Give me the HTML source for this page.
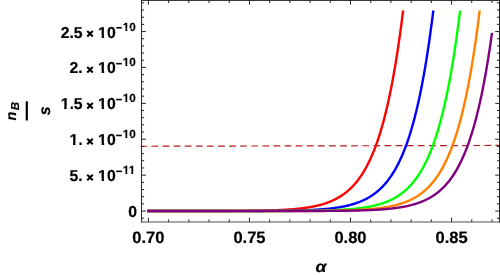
<!DOCTYPE html>
<html><head><meta charset="utf-8"><title>plot</title>
<style>
html,body{margin:0;padding:0;background:#fff;}
body{width:500px;height:275px;overflow:hidden;font-family:"Liberation Sans",sans-serif;}
svg{display:block;will-change:transform}
text{font-family:"Liberation Sans",sans-serif;font-weight:bold;fill:#000;stroke:#000;stroke-width:0.2px;text-rendering:geometricPrecision}
</style></head><body>
<svg width="500" height="275" viewBox="0 0 500 275">
<rect width="500" height="275" fill="#fff"/>
<defs><clipPath id="c"><rect x="141.55" y="10.50" width="357.95" height="211.50"/></clipPath></defs>
<line x1="140.30" y1="146.25" x2="499.50" y2="145.45" stroke="#b81c22" stroke-width="1.20" stroke-dasharray="6.8 4.3"/>
<path d="M147.15 211.05 L147.95 211.05 L148.75 211.05 L149.55 211.05 L150.35 211.05 L151.15 211.05 L151.95 211.05 L152.75 211.05 L153.55 211.05 L154.35 211.05 L155.15 211.05 L155.95 211.05 L156.75 211.05 L157.55 211.05 L158.35 211.05 L159.15 211.05 L159.95 211.05 L160.75 211.05 L161.55 211.05 L162.35 211.05 L163.15 211.05 L163.95 211.05 L164.75 211.05 L165.55 211.05 L166.35 211.05 L167.15 211.05 L167.95 211.04 L168.75 211.04 L169.55 211.04 L170.35 211.04 L171.15 211.04 L171.95 211.04 L172.75 211.04 L173.55 211.04 L174.35 211.04 L175.15 211.04 L175.95 211.04 L176.75 211.04 L177.55 211.04 L178.35 211.04 L179.15 211.04 L179.95 211.04 L180.75 211.04 L181.55 211.04 L182.35 211.04 L183.15 211.04 L183.95 211.04 L184.75 211.04 L185.55 211.04 L186.35 211.04 L187.15 211.04 L187.95 211.04 L188.75 211.04 L189.55 211.04 L190.35 211.03 L191.15 211.03 L191.95 211.03 L192.75 211.03 L193.55 211.03 L194.35 211.03 L195.15 211.03 L195.95 211.03 L196.75 211.03 L197.55 211.03 L198.35 211.03 L199.15 211.03 L199.95 211.03 L200.75 211.02 L201.55 211.02 L202.35 211.02 L203.15 211.02 L203.95 211.02 L204.75 211.02 L205.55 211.02 L206.35 211.02 L207.15 211.02 L207.95 211.01 L208.75 211.01 L209.55 211.01 L210.35 211.01 L211.15 211.01 L211.95 211.01 L212.75 211.00 L213.55 211.00 L214.35 211.00 L215.15 211.00 L215.95 211.00 L216.75 210.99 L217.55 210.99 L218.35 210.99 L219.15 210.99 L219.95 210.99 L220.75 210.98 L221.55 210.98 L222.35 210.98 L223.15 210.97 L223.95 210.97 L224.75 210.97 L225.55 210.97 L226.35 210.96 L227.15 210.96 L227.95 210.96 L228.75 210.95 L229.55 210.95 L230.35 210.94 L231.15 210.94 L231.95 210.94 L232.75 210.93 L233.55 210.93 L234.35 210.92 L235.15 210.92 L235.95 210.91 L236.75 210.91 L237.55 210.90 L238.35 210.90 L239.15 210.89 L239.95 210.88 L240.75 210.88 L241.55 210.87 L242.35 210.87 L243.15 210.86 L243.95 210.85 L244.75 210.84 L245.55 210.84 L246.35 210.83 L247.15 210.82 L247.95 210.81 L248.75 210.80 L249.55 210.79 L250.35 210.78 L251.15 210.77 L251.95 210.76 L252.75 210.75 L253.55 210.74 L254.35 210.73 L255.15 210.72 L255.95 210.70 L256.75 210.69 L257.55 210.68 L258.35 210.66 L259.15 210.65 L259.95 210.63 L260.75 210.62 L261.55 210.60 L262.35 210.58 L263.15 210.57 L263.95 210.55 L264.75 210.53 L265.55 210.51 L266.35 210.49 L267.15 210.47 L267.95 210.45 L268.75 210.43 L269.55 210.40 L270.35 210.38 L271.15 210.35 L271.95 210.33 L272.75 210.30 L273.55 210.27 L274.35 210.25 L275.15 210.22 L275.95 210.19 L276.75 210.15 L277.55 210.12 L278.35 210.09 L279.15 210.05 L279.95 210.02 L280.75 209.98 L281.55 209.94 L282.35 209.90 L283.15 209.85 L283.95 209.81 L284.75 209.77 L285.55 209.72 L286.35 209.67 L287.15 209.62 L287.95 209.57 L288.75 209.51 L289.55 209.46 L290.35 209.40 L291.15 209.34 L291.95 209.28 L292.75 209.21 L293.55 209.15 L294.35 209.08 L295.15 209.01 L295.95 208.93 L296.75 208.86 L297.55 208.78 L298.35 208.70 L299.15 208.61 L299.95 208.52 L300.75 208.43 L301.55 208.34 L302.35 208.24 L303.15 208.14 L303.95 208.03 L304.75 207.93 L305.55 207.81 L306.35 207.70 L307.15 207.58 L307.95 207.45 L308.75 207.33 L309.55 207.19 L310.35 207.05 L311.15 206.91 L311.95 206.76 L312.75 206.61 L313.55 206.45 L314.35 206.29 L315.15 206.12 L315.95 205.94 L316.75 205.76 L317.55 205.58 L318.35 205.38 L319.15 205.18 L319.95 204.97 L320.75 204.76 L321.55 204.53 L322.35 204.30 L323.15 204.07 L323.95 203.82 L324.75 203.56 L325.55 203.30 L326.35 203.03 L327.15 202.75 L327.95 202.45 L328.75 202.15 L329.55 201.84 L330.35 201.51 L331.15 201.18 L331.95 200.83 L332.75 200.48 L333.55 200.11 L334.35 199.72 L335.15 199.33 L335.95 198.92 L336.75 198.49 L337.55 198.06 L338.35 197.60 L339.15 197.13 L339.95 196.65 L340.75 196.15 L341.55 195.63 L342.35 195.09 L343.15 194.54 L343.95 193.97 L344.75 193.37 L345.55 192.76 L346.35 192.13 L347.15 191.47 L347.95 190.80 L348.75 190.10 L349.55 189.37 L350.35 188.62 L351.15 187.85 L351.95 187.05 L352.75 186.22 L353.55 185.37 L354.35 184.49 L355.15 183.57 L355.95 182.63 L356.75 181.65 L357.55 180.64 L358.35 179.60 L359.15 178.52 L359.95 177.41 L360.75 176.26 L361.55 175.07 L362.35 173.84 L363.15 172.57 L363.95 171.25 L364.75 169.90 L365.55 168.49 L366.35 167.04 L367.15 165.54 L367.95 164.00 L368.75 162.40 L369.55 160.74 L370.35 159.04 L371.15 157.27 L371.95 155.45 L372.75 153.56 L373.55 151.62 L374.35 149.60 L375.15 147.53 L375.95 145.38 L376.75 143.16 L377.55 140.87 L378.35 138.50 L379.15 136.06 L379.95 133.53 L380.75 130.92 L381.55 128.22 L382.35 125.44 L383.15 122.56 L383.95 119.59 L384.75 116.52 L385.55 113.35 L386.35 110.07 L387.15 106.69 L387.95 103.20 L388.75 99.59 L389.55 95.86 L390.35 92.02 L391.15 88.04 L391.95 83.94 L392.75 79.70 L393.55 75.32 L394.35 70.80 L395.15 66.13 L395.95 61.32 L396.75 56.34 L397.55 51.20 L398.35 45.89 L399.15 40.41 L399.95 34.76 L400.75 28.91 L401.55 22.88 L402.35 16.66 L403.15 10.23 L403.95 3.59" fill="none" stroke="#ff0000" stroke-width="2.40" stroke-linejoin="round" clip-path="url(#c)"/>
<path d="M147.15 211.05 L147.95 211.05 L148.75 211.05 L149.55 211.05 L150.35 211.05 L151.15 211.05 L151.95 211.05 L152.75 211.05 L153.55 211.05 L154.35 211.05 L155.15 211.05 L155.95 211.05 L156.75 211.05 L157.55 211.05 L158.35 211.05 L159.15 211.05 L159.95 211.05 L160.75 211.05 L161.55 211.05 L162.35 211.05 L163.15 211.05 L163.95 211.05 L164.75 211.05 L165.55 211.05 L166.35 211.05 L167.15 211.05 L167.95 211.05 L168.75 211.05 L169.55 211.05 L170.35 211.05 L171.15 211.05 L171.95 211.05 L172.75 211.05 L173.55 211.05 L174.35 211.05 L175.15 211.05 L175.95 211.05 L176.75 211.05 L177.55 211.05 L178.35 211.05 L179.15 211.05 L179.95 211.05 L180.75 211.05 L181.55 211.05 L182.35 211.05 L183.15 211.05 L183.95 211.05 L184.75 211.05 L185.55 211.05 L186.35 211.05 L187.15 211.05 L187.95 211.05 L188.75 211.05 L189.55 211.05 L190.35 211.05 L191.15 211.05 L191.95 211.05 L192.75 211.05 L193.55 211.05 L194.35 211.05 L195.15 211.05 L195.95 211.05 L196.75 211.05 L197.55 211.04 L198.35 211.04 L199.15 211.04 L199.95 211.04 L200.75 211.04 L201.55 211.04 L202.35 211.04 L203.15 211.04 L203.95 211.04 L204.75 211.04 L205.55 211.04 L206.35 211.04 L207.15 211.04 L207.95 211.04 L208.75 211.04 L209.55 211.04 L210.35 211.04 L211.15 211.04 L211.95 211.04 L212.75 211.04 L213.55 211.04 L214.35 211.04 L215.15 211.04 L215.95 211.04 L216.75 211.04 L217.55 211.04 L218.35 211.04 L219.15 211.04 L219.95 211.03 L220.75 211.03 L221.55 211.03 L222.35 211.03 L223.15 211.03 L223.95 211.03 L224.75 211.03 L225.55 211.03 L226.35 211.03 L227.15 211.03 L227.95 211.03 L228.75 211.03 L229.55 211.03 L230.35 211.02 L231.15 211.02 L231.95 211.02 L232.75 211.02 L233.55 211.02 L234.35 211.02 L235.15 211.02 L235.95 211.02 L236.75 211.02 L237.55 211.01 L238.35 211.01 L239.15 211.01 L239.95 211.01 L240.75 211.01 L241.55 211.01 L242.35 211.01 L243.15 211.00 L243.95 211.00 L244.75 211.00 L245.55 211.00 L246.35 211.00 L247.15 210.99 L247.95 210.99 L248.75 210.99 L249.55 210.99 L250.35 210.98 L251.15 210.98 L251.95 210.98 L252.75 210.98 L253.55 210.97 L254.35 210.97 L255.15 210.97 L255.95 210.96 L256.75 210.96 L257.55 210.96 L258.35 210.95 L259.15 210.95 L259.95 210.95 L260.75 210.94 L261.55 210.94 L262.35 210.93 L263.15 210.93 L263.95 210.93 L264.75 210.92 L265.55 210.92 L266.35 210.91 L267.15 210.91 L267.95 210.90 L268.75 210.89 L269.55 210.89 L270.35 210.88 L271.15 210.88 L271.95 210.87 L272.75 210.86 L273.55 210.86 L274.35 210.85 L275.15 210.84 L275.95 210.83 L276.75 210.82 L277.55 210.82 L278.35 210.81 L279.15 210.80 L279.95 210.79 L280.75 210.78 L281.55 210.77 L282.35 210.76 L283.15 210.75 L283.95 210.73 L284.75 210.72 L285.55 210.71 L286.35 210.70 L287.15 210.68 L287.95 210.67 L288.75 210.66 L289.55 210.64 L290.35 210.63 L291.15 210.61 L291.95 210.59 L292.75 210.58 L293.55 210.56 L294.35 210.54 L295.15 210.52 L295.95 210.50 L296.75 210.48 L297.55 210.46 L298.35 210.44 L299.15 210.42 L299.95 210.40 L300.75 210.37 L301.55 210.35 L302.35 210.32 L303.15 210.29 L303.95 210.27 L304.75 210.24 L305.55 210.21 L306.35 210.18 L307.15 210.14 L307.95 210.11 L308.75 210.08 L309.55 210.04 L310.35 210.00 L311.15 209.96 L311.95 209.92 L312.75 209.88 L313.55 209.84 L314.35 209.80 L315.15 209.75 L315.95 209.70 L316.75 209.65 L317.55 209.60 L318.35 209.55 L319.15 209.50 L319.95 209.44 L320.75 209.38 L321.55 209.32 L322.35 209.26 L323.15 209.19 L323.95 209.13 L324.75 209.06 L325.55 208.98 L326.35 208.91 L327.15 208.83 L327.95 208.75 L328.75 208.67 L329.55 208.58 L330.35 208.50 L331.15 208.40 L331.95 208.31 L332.75 208.21 L333.55 208.11 L334.35 208.00 L335.15 207.89 L335.95 207.78 L336.75 207.66 L337.55 207.54 L338.35 207.42 L339.15 207.29 L339.95 207.15 L340.75 207.01 L341.55 206.87 L342.35 206.72 L343.15 206.57 L343.95 206.41 L344.75 206.24 L345.55 206.07 L346.35 205.89 L347.15 205.71 L347.95 205.52 L348.75 205.33 L349.55 205.12 L350.35 204.91 L351.15 204.70 L351.95 204.47 L352.75 204.24 L353.55 204.00 L354.35 203.75 L355.15 203.49 L355.95 203.23 L356.75 202.95 L357.55 202.67 L358.35 202.37 L359.15 202.07 L359.95 201.75 L360.75 201.43 L361.55 201.09 L362.35 200.74 L363.15 200.38 L363.95 200.01 L364.75 199.62 L365.55 199.22 L366.35 198.81 L367.15 198.38 L367.95 197.94 L368.75 197.48 L369.55 197.01 L370.35 196.52 L371.15 196.01 L371.95 195.49 L372.75 194.95 L373.55 194.39 L374.35 193.82 L375.15 193.22 L375.95 192.60 L376.75 191.96 L377.55 191.30 L378.35 190.62 L379.15 189.91 L379.95 189.18 L380.75 188.43 L381.55 187.65 L382.35 186.84 L383.15 186.01 L383.95 185.15 L384.75 184.26 L385.55 183.34 L386.35 182.38 L387.15 181.40 L387.95 180.38 L388.75 179.33 L389.55 178.24 L390.35 177.12 L391.15 175.96 L391.95 174.76 L392.75 173.52 L393.55 172.24 L394.35 170.92 L395.15 169.55 L395.95 168.13 L396.75 166.67 L397.55 165.16 L398.35 163.60 L399.15 161.99 L399.95 160.32 L400.75 158.60 L401.55 156.82 L402.35 154.98 L403.15 153.08 L403.95 151.12 L404.75 149.09 L405.55 147.00 L406.35 144.83 L407.15 142.59 L407.95 140.28 L408.75 137.90 L409.55 135.43 L410.35 132.88 L411.15 130.25 L411.95 127.53 L412.75 124.73 L413.55 121.82 L414.35 118.83 L415.15 115.73 L415.95 112.54 L416.75 109.24 L417.55 105.83 L418.35 102.30 L419.15 98.67 L419.95 94.91 L420.75 91.03 L421.55 87.02 L422.35 82.88 L423.15 78.61 L423.95 74.19 L424.75 69.63 L425.55 64.93 L426.35 60.07 L427.15 55.05 L427.95 49.87 L428.75 44.51 L429.55 38.99 L430.35 33.28 L431.15 27.39 L431.95 21.31 L432.75 15.03 L433.55 8.54 L434.35 1.85" fill="none" stroke="#0000ff" stroke-width="2.40" stroke-linejoin="round" clip-path="url(#c)"/>
<path d="M147.15 211.05 L147.95 211.05 L148.75 211.05 L149.55 211.05 L150.35 211.05 L151.15 211.05 L151.95 211.05 L152.75 211.05 L153.55 211.05 L154.35 211.05 L155.15 211.05 L155.95 211.05 L156.75 211.05 L157.55 211.05 L158.35 211.05 L159.15 211.05 L159.95 211.05 L160.75 211.05 L161.55 211.05 L162.35 211.05 L163.15 211.05 L163.95 211.05 L164.75 211.05 L165.55 211.05 L166.35 211.05 L167.15 211.05 L167.95 211.05 L168.75 211.05 L169.55 211.05 L170.35 211.05 L171.15 211.05 L171.95 211.05 L172.75 211.05 L173.55 211.05 L174.35 211.05 L175.15 211.05 L175.95 211.05 L176.75 211.05 L177.55 211.05 L178.35 211.05 L179.15 211.05 L179.95 211.05 L180.75 211.05 L181.55 211.05 L182.35 211.05 L183.15 211.05 L183.95 211.05 L184.75 211.05 L185.55 211.05 L186.35 211.05 L187.15 211.05 L187.95 211.05 L188.75 211.05 L189.55 211.05 L190.35 211.05 L191.15 211.05 L191.95 211.05 L192.75 211.05 L193.55 211.05 L194.35 211.05 L195.15 211.05 L195.95 211.05 L196.75 211.05 L197.55 211.05 L198.35 211.05 L199.15 211.05 L199.95 211.05 L200.75 211.05 L201.55 211.05 L202.35 211.05 L203.15 211.05 L203.95 211.05 L204.75 211.05 L205.55 211.05 L206.35 211.05 L207.15 211.05 L207.95 211.05 L208.75 211.05 L209.55 211.05 L210.35 211.05 L211.15 211.05 L211.95 211.05 L212.75 211.05 L213.55 211.05 L214.35 211.05 L215.15 211.05 L215.95 211.05 L216.75 211.05 L217.55 211.05 L218.35 211.05 L219.15 211.05 L219.95 211.05 L220.75 211.05 L221.55 211.05 L222.35 211.05 L223.15 211.05 L223.95 211.04 L224.75 211.04 L225.55 211.04 L226.35 211.04 L227.15 211.04 L227.95 211.04 L228.75 211.04 L229.55 211.04 L230.35 211.04 L231.15 211.04 L231.95 211.04 L232.75 211.04 L233.55 211.04 L234.35 211.04 L235.15 211.04 L235.95 211.04 L236.75 211.04 L237.55 211.04 L238.35 211.04 L239.15 211.04 L239.95 211.04 L240.75 211.04 L241.55 211.04 L242.35 211.04 L243.15 211.04 L243.95 211.04 L244.75 211.04 L245.55 211.04 L246.35 211.03 L247.15 211.03 L247.95 211.03 L248.75 211.03 L249.55 211.03 L250.35 211.03 L251.15 211.03 L251.95 211.03 L252.75 211.03 L253.55 211.03 L254.35 211.03 L255.15 211.03 L255.95 211.03 L256.75 211.03 L257.55 211.02 L258.35 211.02 L259.15 211.02 L259.95 211.02 L260.75 211.02 L261.55 211.02 L262.35 211.02 L263.15 211.02 L263.95 211.01 L264.75 211.01 L265.55 211.01 L266.35 211.01 L267.15 211.01 L267.95 211.01 L268.75 211.01 L269.55 211.00 L270.35 211.00 L271.15 211.00 L271.95 211.00 L272.75 211.00 L273.55 210.99 L274.35 210.99 L275.15 210.99 L275.95 210.99 L276.75 210.99 L277.55 210.98 L278.35 210.98 L279.15 210.98 L279.95 210.97 L280.75 210.97 L281.55 210.97 L282.35 210.97 L283.15 210.96 L283.95 210.96 L284.75 210.96 L285.55 210.95 L286.35 210.95 L287.15 210.94 L287.95 210.94 L288.75 210.94 L289.55 210.93 L290.35 210.93 L291.15 210.92 L291.95 210.92 L292.75 210.91 L293.55 210.91 L294.35 210.90 L295.15 210.90 L295.95 210.89 L296.75 210.88 L297.55 210.88 L298.35 210.87 L299.15 210.86 L299.95 210.86 L300.75 210.85 L301.55 210.84 L302.35 210.83 L303.15 210.83 L303.95 210.82 L304.75 210.81 L305.55 210.80 L306.35 210.79 L307.15 210.78 L307.95 210.77 L308.75 210.76 L309.55 210.75 L310.35 210.74 L311.15 210.73 L311.95 210.72 L312.75 210.70 L313.55 210.69 L314.35 210.68 L315.15 210.66 L315.95 210.65 L316.75 210.63 L317.55 210.62 L318.35 210.60 L319.15 210.58 L319.95 210.57 L320.75 210.55 L321.55 210.53 L322.35 210.51 L323.15 210.49 L323.95 210.47 L324.75 210.45 L325.55 210.43 L326.35 210.40 L327.15 210.38 L327.95 210.36 L328.75 210.33 L329.55 210.30 L330.35 210.28 L331.15 210.25 L331.95 210.22 L332.75 210.19 L333.55 210.16 L334.35 210.12 L335.15 210.09 L335.95 210.05 L336.75 210.02 L337.55 209.98 L338.35 209.94 L339.15 209.90 L339.95 209.86 L340.75 209.82 L341.55 209.77 L342.35 209.72 L343.15 209.68 L343.95 209.63 L344.75 209.57 L345.55 209.52 L346.35 209.47 L347.15 209.41 L347.95 209.35 L348.75 209.29 L349.55 209.22 L350.35 209.16 L351.15 209.09 L351.95 209.02 L352.75 208.94 L353.55 208.87 L354.35 208.79 L355.15 208.71 L355.95 208.62 L356.75 208.54 L357.55 208.45 L358.35 208.35 L359.15 208.26 L359.95 208.16 L360.75 208.05 L361.55 207.94 L362.35 207.83 L363.15 207.72 L363.95 207.60 L364.75 207.48 L365.55 207.35 L366.35 207.22 L367.15 207.08 L367.95 206.94 L368.75 206.79 L369.55 206.64 L370.35 206.48 L371.15 206.32 L371.95 206.15 L372.75 205.98 L373.55 205.80 L374.35 205.61 L375.15 205.42 L375.95 205.22 L376.75 205.01 L377.55 204.80 L378.35 204.58 L379.15 204.35 L379.95 204.12 L380.75 203.87 L381.55 203.62 L382.35 203.36 L383.15 203.09 L383.95 202.81 L384.75 202.52 L385.55 202.22 L386.35 201.91 L387.15 201.59 L387.95 201.25 L388.75 200.91 L389.55 200.56 L390.35 200.19 L391.15 199.81 L391.95 199.42 L392.75 199.01 L393.55 198.59 L394.35 198.16 L395.15 197.71 L395.95 197.24 L396.75 196.76 L397.55 196.26 L398.35 195.75 L399.15 195.22 L399.95 194.67 L400.75 194.10 L401.55 193.51 L402.35 192.91 L403.15 192.28 L403.95 191.63 L404.75 190.96 L405.55 190.26 L406.35 189.55 L407.15 188.81 L407.95 188.04 L408.75 187.25 L409.55 186.43 L410.35 185.58 L411.15 184.70 L411.95 183.80 L412.75 182.86 L413.55 181.89 L414.35 180.89 L415.15 179.86 L415.95 178.79 L416.75 177.69 L417.55 176.54 L418.35 175.36 L419.15 174.14 L419.95 172.88 L420.75 171.58 L421.55 170.24 L422.35 168.84 L423.15 167.41 L423.95 165.92 L424.75 164.39 L425.55 162.80 L426.35 161.16 L427.15 159.47 L427.95 157.72 L428.75 155.91 L429.55 154.04 L430.35 152.11 L431.15 150.11 L431.95 148.05 L432.75 145.92 L433.55 143.72 L434.35 141.45 L435.15 139.10 L435.95 136.67 L436.75 134.17 L437.55 131.58 L438.35 128.90 L439.15 126.14 L439.95 123.29 L440.75 120.34 L441.55 117.29 L442.35 114.15 L443.15 110.90 L443.95 107.54 L444.75 104.07 L445.55 100.49 L446.35 96.80 L447.15 92.98 L447.95 89.03 L448.75 84.96 L449.55 80.75 L450.35 76.41 L451.15 71.92 L451.95 67.29 L452.75 62.50 L453.55 57.56 L454.35 52.46 L455.15 47.19 L455.95 41.75 L456.75 36.13 L457.55 30.33 L458.35 24.34 L459.15 18.16 L459.95 11.78 L460.75 5.18" fill="none" stroke="#00ff00" stroke-width="2.40" stroke-linejoin="round" clip-path="url(#c)"/>
<path d="M147.15 211.05 L147.95 211.05 L148.75 211.05 L149.55 211.05 L150.35 211.05 L151.15 211.05 L151.95 211.05 L152.75 211.05 L153.55 211.05 L154.35 211.05 L155.15 211.05 L155.95 211.05 L156.75 211.05 L157.55 211.05 L158.35 211.05 L159.15 211.05 L159.95 211.05 L160.75 211.05 L161.55 211.05 L162.35 211.05 L163.15 211.05 L163.95 211.05 L164.75 211.05 L165.55 211.05 L166.35 211.05 L167.15 211.05 L167.95 211.05 L168.75 211.05 L169.55 211.05 L170.35 211.05 L171.15 211.05 L171.95 211.05 L172.75 211.05 L173.55 211.05 L174.35 211.05 L175.15 211.05 L175.95 211.05 L176.75 211.05 L177.55 211.05 L178.35 211.05 L179.15 211.05 L179.95 211.05 L180.75 211.05 L181.55 211.05 L182.35 211.05 L183.15 211.05 L183.95 211.05 L184.75 211.05 L185.55 211.05 L186.35 211.05 L187.15 211.05 L187.95 211.05 L188.75 211.05 L189.55 211.05 L190.35 211.05 L191.15 211.05 L191.95 211.05 L192.75 211.05 L193.55 211.05 L194.35 211.05 L195.15 211.05 L195.95 211.05 L196.75 211.05 L197.55 211.05 L198.35 211.05 L199.15 211.05 L199.95 211.05 L200.75 211.05 L201.55 211.05 L202.35 211.05 L203.15 211.05 L203.95 211.05 L204.75 211.05 L205.55 211.05 L206.35 211.05 L207.15 211.05 L207.95 211.05 L208.75 211.05 L209.55 211.05 L210.35 211.05 L211.15 211.05 L211.95 211.05 L212.75 211.05 L213.55 211.05 L214.35 211.05 L215.15 211.05 L215.95 211.05 L216.75 211.05 L217.55 211.05 L218.35 211.05 L219.15 211.05 L219.95 211.05 L220.75 211.05 L221.55 211.05 L222.35 211.05 L223.15 211.05 L223.95 211.05 L224.75 211.05 L225.55 211.05 L226.35 211.05 L227.15 211.05 L227.95 211.05 L228.75 211.05 L229.55 211.05 L230.35 211.05 L231.15 211.05 L231.95 211.05 L232.75 211.05 L233.55 211.05 L234.35 211.05 L235.15 211.05 L235.95 211.05 L236.75 211.05 L237.55 211.05 L238.35 211.05 L239.15 211.05 L239.95 211.05 L240.75 211.05 L241.55 211.05 L242.35 211.05 L243.15 211.05 L243.95 211.04 L244.75 211.04 L245.55 211.04 L246.35 211.04 L247.15 211.04 L247.95 211.04 L248.75 211.04 L249.55 211.04 L250.35 211.04 L251.15 211.04 L251.95 211.04 L252.75 211.04 L253.55 211.04 L254.35 211.04 L255.15 211.04 L255.95 211.04 L256.75 211.04 L257.55 211.04 L258.35 211.04 L259.15 211.04 L259.95 211.04 L260.75 211.04 L261.55 211.04 L262.35 211.04 L263.15 211.04 L263.95 211.04 L264.75 211.04 L265.55 211.04 L266.35 211.03 L267.15 211.03 L267.95 211.03 L268.75 211.03 L269.55 211.03 L270.35 211.03 L271.15 211.03 L271.95 211.03 L272.75 211.03 L273.55 211.03 L274.35 211.03 L275.15 211.03 L275.95 211.03 L276.75 211.02 L277.55 211.02 L278.35 211.02 L279.15 211.02 L279.95 211.02 L280.75 211.02 L281.55 211.02 L282.35 211.02 L283.15 211.02 L283.95 211.01 L284.75 211.01 L285.55 211.01 L286.35 211.01 L287.15 211.01 L287.95 211.01 L288.75 211.00 L289.55 211.00 L290.35 211.00 L291.15 211.00 L291.95 211.00 L292.75 210.99 L293.55 210.99 L294.35 210.99 L295.15 210.99 L295.95 210.99 L296.75 210.98 L297.55 210.98 L298.35 210.98 L299.15 210.98 L299.95 210.97 L300.75 210.97 L301.55 210.97 L302.35 210.96 L303.15 210.96 L303.95 210.96 L304.75 210.95 L305.55 210.95 L306.35 210.95 L307.15 210.94 L307.95 210.94 L308.75 210.93 L309.55 210.93 L310.35 210.92 L311.15 210.92 L311.95 210.91 L312.75 210.91 L313.55 210.90 L314.35 210.90 L315.15 210.89 L315.95 210.89 L316.75 210.88 L317.55 210.87 L318.35 210.87 L319.15 210.86 L319.95 210.85 L320.75 210.85 L321.55 210.84 L322.35 210.83 L323.15 210.82 L323.95 210.81 L324.75 210.80 L325.55 210.80 L326.35 210.79 L327.15 210.78 L327.95 210.77 L328.75 210.75 L329.55 210.74 L330.35 210.73 L331.15 210.72 L331.95 210.71 L332.75 210.70 L333.55 210.68 L334.35 210.67 L335.15 210.65 L335.95 210.64 L336.75 210.62 L337.55 210.61 L338.35 210.59 L339.15 210.57 L339.95 210.56 L340.75 210.54 L341.55 210.52 L342.35 210.50 L343.15 210.48 L343.95 210.46 L344.75 210.44 L345.55 210.41 L346.35 210.39 L347.15 210.37 L347.95 210.34 L348.75 210.32 L349.55 210.29 L350.35 210.26 L351.15 210.23 L351.95 210.20 L352.75 210.17 L353.55 210.14 L354.35 210.11 L355.15 210.07 L355.95 210.03 L356.75 210.00 L357.55 209.96 L358.35 209.92 L359.15 209.88 L359.95 209.84 L360.75 209.79 L361.55 209.75 L362.35 209.70 L363.15 209.65 L363.95 209.60 L364.75 209.55 L365.55 209.49 L366.35 209.43 L367.15 209.38 L367.95 209.32 L368.75 209.25 L369.55 209.19 L370.35 209.12 L371.15 209.05 L371.95 208.98 L372.75 208.90 L373.55 208.83 L374.35 208.75 L375.15 208.66 L375.95 208.58 L376.75 208.49 L377.55 208.40 L378.35 208.30 L379.15 208.20 L379.95 208.10 L380.75 208.00 L381.55 207.89 L382.35 207.77 L383.15 207.66 L383.95 207.53 L384.75 207.41 L385.55 207.28 L386.35 207.14 L387.15 207.01 L387.95 206.86 L388.75 206.71 L389.55 206.56 L390.35 206.40 L391.15 206.23 L391.95 206.06 L392.75 205.89 L393.55 205.70 L394.35 205.51 L395.15 205.32 L395.95 205.11 L396.75 204.90 L397.55 204.69 L398.35 204.46 L399.15 204.23 L399.95 203.99 L400.75 203.74 L401.55 203.48 L402.35 203.22 L403.15 202.94 L403.95 202.66 L404.75 202.36 L405.55 202.06 L406.35 201.74 L407.15 201.42 L407.95 201.08 L408.75 200.73 L409.55 200.37 L410.35 200.00 L411.15 199.61 L411.95 199.21 L412.75 198.80 L413.55 198.37 L414.35 197.93 L415.15 197.47 L415.95 197.00 L416.75 196.51 L417.55 196.01 L418.35 195.48 L419.15 194.94 L419.95 194.39 L420.75 193.81 L421.55 193.21 L422.35 192.59 L423.15 191.95 L423.95 191.29 L424.75 190.61 L425.55 189.91 L426.35 189.18 L427.15 188.42 L427.95 187.64 L428.75 186.84 L429.55 186.00 L430.35 185.14 L431.15 184.25 L431.95 183.33 L432.75 182.38 L433.55 181.39 L434.35 180.38 L435.15 179.33 L435.95 178.24 L436.75 177.12 L437.55 175.96 L438.35 174.76 L439.15 173.52 L439.95 172.24 L440.75 170.91 L441.55 169.55 L442.35 168.13 L443.15 166.67 L443.95 165.16 L444.75 163.60 L445.55 161.99 L446.35 160.32 L447.15 158.60 L447.95 156.82 L448.75 154.98 L449.55 153.08 L450.35 151.12 L451.15 149.09 L451.95 147.00 L452.75 144.83 L453.55 142.59 L454.35 140.28 L455.15 137.90 L455.95 135.43 L456.75 132.88 L457.55 130.25 L458.35 127.53 L459.15 124.72 L459.95 121.82 L460.75 118.83 L461.55 115.73 L462.35 112.53 L463.15 109.23 L463.95 105.82 L464.75 102.30 L465.55 98.66 L466.35 94.90 L467.15 91.02 L467.95 87.01 L468.75 82.87 L469.55 78.59 L470.35 74.17 L471.15 69.61 L471.95 64.90 L472.75 60.04 L473.55 55.02 L474.35 49.83 L475.15 44.48 L475.95 38.95 L476.75 33.24 L477.55 27.34 L478.35 21.25 L479.15 14.97 L479.95 8.48 L480.75 1.78" fill="none" stroke="#ff8000" stroke-width="2.40" stroke-linejoin="round" clip-path="url(#c)"/>
<path d="M147.15 211.05 L147.95 211.05 L148.75 211.05 L149.55 211.05 L150.35 211.05 L151.15 211.05 L151.95 211.05 L152.75 211.05 L153.55 211.05 L154.35 211.05 L155.15 211.05 L155.95 211.05 L156.75 211.05 L157.55 211.05 L158.35 211.05 L159.15 211.05 L159.95 211.05 L160.75 211.05 L161.55 211.05 L162.35 211.05 L163.15 211.05 L163.95 211.05 L164.75 211.05 L165.55 211.05 L166.35 211.05 L167.15 211.05 L167.95 211.05 L168.75 211.05 L169.55 211.05 L170.35 211.05 L171.15 211.05 L171.95 211.05 L172.75 211.05 L173.55 211.05 L174.35 211.05 L175.15 211.05 L175.95 211.05 L176.75 211.05 L177.55 211.05 L178.35 211.05 L179.15 211.05 L179.95 211.05 L180.75 211.05 L181.55 211.05 L182.35 211.05 L183.15 211.05 L183.95 211.05 L184.75 211.05 L185.55 211.05 L186.35 211.05 L187.15 211.05 L187.95 211.05 L188.75 211.05 L189.55 211.05 L190.35 211.05 L191.15 211.05 L191.95 211.05 L192.75 211.05 L193.55 211.05 L194.35 211.05 L195.15 211.05 L195.95 211.05 L196.75 211.05 L197.55 211.05 L198.35 211.05 L199.15 211.05 L199.95 211.05 L200.75 211.05 L201.55 211.05 L202.35 211.05 L203.15 211.05 L203.95 211.05 L204.75 211.05 L205.55 211.05 L206.35 211.05 L207.15 211.05 L207.95 211.05 L208.75 211.05 L209.55 211.05 L210.35 211.05 L211.15 211.05 L211.95 211.05 L212.75 211.05 L213.55 211.05 L214.35 211.05 L215.15 211.05 L215.95 211.05 L216.75 211.05 L217.55 211.05 L218.35 211.05 L219.15 211.05 L219.95 211.05 L220.75 211.05 L221.55 211.05 L222.35 211.05 L223.15 211.05 L223.95 211.05 L224.75 211.05 L225.55 211.05 L226.35 211.05 L227.15 211.05 L227.95 211.05 L228.75 211.05 L229.55 211.05 L230.35 211.05 L231.15 211.05 L231.95 211.05 L232.75 211.05 L233.55 211.05 L234.35 211.05 L235.15 211.05 L235.95 211.05 L236.75 211.05 L237.55 211.05 L238.35 211.05 L239.15 211.05 L239.95 211.05 L240.75 211.05 L241.55 211.05 L242.35 211.05 L243.15 211.05 L243.95 211.05 L244.75 211.05 L245.55 211.05 L246.35 211.05 L247.15 211.05 L247.95 211.05 L248.75 211.05 L249.55 211.05 L250.35 211.05 L251.15 211.05 L251.95 211.05 L252.75 211.05 L253.55 211.05 L254.35 211.05 L255.15 211.05 L255.95 211.05 L256.75 211.05 L257.55 211.05 L258.35 211.05 L259.15 211.04 L259.95 211.04 L260.75 211.04 L261.55 211.04 L262.35 211.04 L263.15 211.04 L263.95 211.04 L264.75 211.04 L265.55 211.04 L266.35 211.04 L267.15 211.04 L267.95 211.04 L268.75 211.04 L269.55 211.04 L270.35 211.04 L271.15 211.04 L271.95 211.04 L272.75 211.04 L273.55 211.04 L274.35 211.04 L275.15 211.04 L275.95 211.04 L276.75 211.04 L277.55 211.04 L278.35 211.04 L279.15 211.04 L279.95 211.04 L280.75 211.04 L281.55 211.03 L282.35 211.03 L283.15 211.03 L283.95 211.03 L284.75 211.03 L285.55 211.03 L286.35 211.03 L287.15 211.03 L287.95 211.03 L288.75 211.03 L289.55 211.03 L290.35 211.03 L291.15 211.03 L291.95 211.02 L292.75 211.02 L293.55 211.02 L294.35 211.02 L295.15 211.02 L295.95 211.02 L296.75 211.02 L297.55 211.02 L298.35 211.02 L299.15 211.01 L299.95 211.01 L300.75 211.01 L301.55 211.01 L302.35 211.01 L303.15 211.01 L303.95 211.00 L304.75 211.00 L305.55 211.00 L306.35 211.00 L307.15 211.00 L307.95 210.99 L308.75 210.99 L309.55 210.99 L310.35 210.99 L311.15 210.99 L311.95 210.98 L312.75 210.98 L313.55 210.98 L314.35 210.98 L315.15 210.97 L315.95 210.97 L316.75 210.97 L317.55 210.96 L318.35 210.96 L319.15 210.96 L319.95 210.95 L320.75 210.95 L321.55 210.95 L322.35 210.94 L323.15 210.94 L323.95 210.93 L324.75 210.93 L325.55 210.92 L326.35 210.92 L327.15 210.91 L327.95 210.91 L328.75 210.90 L329.55 210.90 L330.35 210.89 L331.15 210.89 L331.95 210.88 L332.75 210.87 L333.55 210.87 L334.35 210.86 L335.15 210.85 L335.95 210.85 L336.75 210.84 L337.55 210.83 L338.35 210.82 L339.15 210.81 L339.95 210.80 L340.75 210.79 L341.55 210.78 L342.35 210.78 L343.15 210.76 L343.95 210.75 L344.75 210.74 L345.55 210.73 L346.35 210.72 L347.15 210.71 L347.95 210.69 L348.75 210.68 L349.55 210.67 L350.35 210.65 L351.15 210.64 L351.95 210.62 L352.75 210.61 L353.55 210.59 L354.35 210.57 L355.15 210.56 L355.95 210.54 L356.75 210.52 L357.55 210.50 L358.35 210.48 L359.15 210.46 L359.95 210.44 L360.75 210.41 L361.55 210.39 L362.35 210.37 L363.15 210.34 L363.95 210.31 L364.75 210.29 L365.55 210.26 L366.35 210.23 L367.15 210.20 L367.95 210.17 L368.75 210.14 L369.55 210.10 L370.35 210.07 L371.15 210.03 L371.95 210.00 L372.75 209.96 L373.55 209.92 L374.35 209.88 L375.15 209.83 L375.95 209.79 L376.75 209.74 L377.55 209.70 L378.35 209.65 L379.15 209.60 L379.95 209.54 L380.75 209.49 L381.55 209.43 L382.35 209.37 L383.15 209.31 L383.95 209.25 L384.75 209.19 L385.55 209.12 L386.35 209.05 L387.15 208.98 L387.95 208.90 L388.75 208.82 L389.55 208.74 L390.35 208.66 L391.15 208.58 L391.95 208.49 L392.75 208.39 L393.55 208.30 L394.35 208.20 L395.15 208.10 L395.95 207.99 L396.75 207.88 L397.55 207.77 L398.35 207.65 L399.15 207.53 L399.95 207.41 L400.75 207.28 L401.55 207.14 L402.35 207.00 L403.15 206.86 L403.95 206.71 L404.75 206.56 L405.55 206.40 L406.35 206.23 L407.15 206.06 L407.95 205.88 L408.75 205.70 L409.55 205.51 L410.35 205.31 L411.15 205.11 L411.95 204.90 L412.75 204.68 L413.55 204.46 L414.35 204.23 L415.15 203.99 L415.95 203.74 L416.75 203.48 L417.55 203.22 L418.35 202.94 L419.15 202.65 L419.95 202.36 L420.75 202.06 L421.55 201.74 L422.35 201.41 L423.15 201.08 L423.95 200.73 L424.75 200.37 L425.55 199.99 L426.35 199.61 L427.15 199.21 L427.95 198.80 L428.75 198.37 L429.55 197.93 L430.35 197.47 L431.15 197.00 L431.95 196.51 L432.75 196.00 L433.55 195.48 L434.35 194.94 L435.15 194.38 L435.95 193.81 L436.75 193.21 L437.55 192.59 L438.35 191.95 L439.15 191.29 L439.95 190.61 L440.75 189.90 L441.55 189.17 L442.35 188.42 L443.15 187.64 L443.95 186.83 L444.75 186.00 L445.55 185.14 L446.35 184.25 L447.15 183.33 L447.95 182.38 L448.75 181.39 L449.55 180.38 L450.35 179.33 L451.15 178.24 L451.95 177.12 L452.75 175.96 L453.55 174.76 L454.35 173.52 L455.15 172.24 L455.95 170.91 L456.75 169.54 L457.55 168.13 L458.35 166.67 L459.15 165.16 L459.95 163.60 L460.75 161.99 L461.55 160.32 L462.35 158.60 L463.15 156.82 L463.95 154.98 L464.75 153.08 L465.55 151.12 L466.35 149.09 L467.15 147.00 L467.95 144.83 L468.75 142.59 L469.55 140.28 L470.35 137.90 L471.15 135.43 L471.95 132.88 L472.75 130.25 L473.55 127.53 L474.35 124.72 L475.15 121.82 L475.95 118.83 L476.75 115.73 L477.55 112.53 L478.35 109.23 L479.15 105.82 L479.95 102.29 L480.75 98.65 L481.55 94.89 L482.35 91.01 L483.15 87.00 L483.95 82.86 L484.75 78.58 L485.55 74.17 L486.35 69.61 L487.15 64.90 L487.95 60.03 L488.75 55.01 L489.55 49.82 L490.35 44.46 L491.15 38.93 L491.95 33.22 L492.00 32.86" fill="none" stroke="#800080" stroke-width="2.40" stroke-linejoin="round" clip-path="url(#c)"/>
<path d="M148.40 222.00 v-4.30 M148.40 0.40 v4.30 M168.61 222.00 v-2.60 M168.61 0.40 v2.60 M188.82 222.00 v-2.60 M188.82 0.40 v2.60 M209.03 222.00 v-2.60 M209.03 0.40 v2.60 M229.24 222.00 v-2.60 M229.24 0.40 v2.60 M249.45 222.00 v-4.30 M249.45 0.40 v4.30 M269.66 222.00 v-2.60 M269.66 0.40 v2.60 M289.87 222.00 v-2.60 M289.87 0.40 v2.60 M310.08 222.00 v-2.60 M310.08 0.40 v2.60 M330.29 222.00 v-2.60 M330.29 0.40 v2.60 M350.50 222.00 v-4.30 M350.50 0.40 v4.30 M370.71 222.00 v-2.60 M370.71 0.40 v2.60 M390.92 222.00 v-2.60 M390.92 0.40 v2.60 M411.13 222.00 v-2.60 M411.13 0.40 v2.60 M431.34 222.00 v-2.60 M431.34 0.40 v2.60 M451.55 222.00 v-4.30 M451.55 0.40 v4.30 M471.76 222.00 v-2.60 M471.76 0.40 v2.60 M491.97 222.00 v-2.60 M491.97 0.40 v2.60 M141.55 218.23 h2.60 M499.50 218.23 h-2.60 M141.55 211.05 h4.30 M499.50 211.05 h-4.30 M141.55 203.87 h2.60 M499.50 203.87 h-2.60 M141.55 196.69 h2.60 M499.50 196.69 h-2.60 M141.55 189.51 h2.60 M499.50 189.51 h-2.60 M141.55 182.33 h2.60 M499.50 182.33 h-2.60 M141.55 175.15 h4.30 M499.50 175.15 h-4.30 M141.55 167.97 h2.60 M499.50 167.97 h-2.60 M141.55 160.79 h2.60 M499.50 160.79 h-2.60 M141.55 153.61 h2.60 M499.50 153.61 h-2.60 M141.55 146.43 h2.60 M499.50 146.43 h-2.60 M141.55 139.25 h4.30 M499.50 139.25 h-4.30 M141.55 132.07 h2.60 M499.50 132.07 h-2.60 M141.55 124.89 h2.60 M499.50 124.89 h-2.60 M141.55 117.71 h2.60 M499.50 117.71 h-2.60 M141.55 110.53 h2.60 M499.50 110.53 h-2.60 M141.55 103.35 h4.30 M499.50 103.35 h-4.30 M141.55 96.17 h2.60 M499.50 96.17 h-2.60 M141.55 88.99 h2.60 M499.50 88.99 h-2.60 M141.55 81.81 h2.60 M499.50 81.81 h-2.60 M141.55 74.63 h2.60 M499.50 74.63 h-2.60 M141.55 67.45 h4.30 M499.50 67.45 h-4.30 M141.55 60.27 h2.60 M499.50 60.27 h-2.60 M141.55 53.09 h2.60 M499.50 53.09 h-2.60 M141.55 45.91 h2.60 M499.50 45.91 h-2.60 M141.55 38.73 h2.60 M499.50 38.73 h-2.60 M141.55 31.55 h4.30 M499.50 31.55 h-4.30 M141.55 24.37 h2.60 M499.50 24.37 h-2.60 M141.55 17.19 h2.60 M499.50 17.19 h-2.60 M141.55 10.01 h2.60 M499.50 10.01 h-2.60 M141.55 2.83 h2.60 M499.50 2.83 h-2.60" fill="none" stroke="#222222" stroke-width="1.00"/>
<path d="M141.55 -0.10 V222.50 M499.50 -0.10 V222.50 M141.05 0.40 H500.00" fill="none" stroke="#222222" stroke-width="1.00"/>
<path d="M141.05 222.00 H500.00" fill="none" stroke="#505050" stroke-width="1.00"/>
<text x="148.40" y="243.10" font-size="16.50" text-anchor="middle">0.70</text>
<text x="249.45" y="243.10" font-size="16.50" text-anchor="middle">0.75</text>
<text x="350.50" y="243.10" font-size="16.50" text-anchor="middle">0.80</text>
<text x="451.55" y="243.10" font-size="16.50" text-anchor="middle">0.85</text>
<text x="82.60" y="37.55" font-size="15.80" text-anchor="end">2.5</text><path d="M87.25 31.10 l5.50 5.50 M87.25 36.60 l5.50 -5.50" stroke="#000" stroke-width="2.10" fill="none"/><text x="98.10" y="37.55" font-size="15.80">10</text><rect x="116.20" y="26.95" width="5.60" height="1.60" fill="#000"/><text x="122.80" y="30.55" font-size="11.70">10</text>
<text x="82.60" y="73.45" font-size="15.80" text-anchor="end">2.</text><path d="M87.25 67.00 l5.50 5.50 M87.25 72.50 l5.50 -5.50" stroke="#000" stroke-width="2.10" fill="none"/><text x="98.10" y="73.45" font-size="15.80">10</text><rect x="116.20" y="62.85" width="5.60" height="1.60" fill="#000"/><text x="122.80" y="66.45" font-size="11.70">10</text>
<text x="82.60" y="109.35" font-size="15.80" text-anchor="end">1.5</text><path d="M87.25 102.90 l5.50 5.50 M87.25 108.40 l5.50 -5.50" stroke="#000" stroke-width="2.10" fill="none"/><text x="98.10" y="109.35" font-size="15.80">10</text><rect x="116.20" y="98.75" width="5.60" height="1.60" fill="#000"/><text x="122.80" y="102.35" font-size="11.70">10</text>
<text x="82.60" y="145.25" font-size="15.80" text-anchor="end">1.</text><path d="M87.25 138.80 l5.50 5.50 M87.25 144.30 l5.50 -5.50" stroke="#000" stroke-width="2.10" fill="none"/><text x="98.10" y="145.25" font-size="15.80">10</text><rect x="116.20" y="134.65" width="5.60" height="1.60" fill="#000"/><text x="122.80" y="138.25" font-size="11.70">10</text>
<text x="82.60" y="181.15" font-size="15.80" text-anchor="end">5.</text><path d="M87.25 174.70 l5.50 5.50 M87.25 180.20 l5.50 -5.50" stroke="#000" stroke-width="2.10" fill="none"/><text x="98.10" y="181.15" font-size="15.80">10</text><rect x="116.20" y="170.55" width="5.60" height="1.60" fill="#000"/><text x="122.80" y="174.15" font-size="11.70">11</text>
<text x="137.00" y="216.95" font-size="15.80" text-anchor="end">0</text>
<text transform="translate(321.00,272.00) scale(1.06,0.95)" font-size="16.60" font-style="italic" text-anchor="middle">α</text>
<text transform="translate(16.20,120.60) rotate(-90)" font-size="14.50" font-style="italic">n</text>
<text transform="translate(19.30,110.20) rotate(-90)" font-size="11.60" font-style="italic">B</text>
<rect x="25.70" y="101.30" width="2.20" height="19.20" fill="#000"/>
<text transform="translate(50.00,115.30) rotate(-90)" font-size="16.00" font-style="italic">s</text>
<!--MASKS--><rect x="97.60" y="34.74" width="4.04" height="4.21" fill="#fff"/><rect x="104.11" y="34.74" width="3.84" height="4.21" fill="#fff"/><rect x="122.04" y="28.16" width="3.34" height="3.79" fill="#fff"/><rect x="127.29" y="28.16" width="3.20" height="3.79" fill="#fff"/><rect x="97.60" y="70.64" width="4.04" height="4.21" fill="#fff"/><rect x="104.11" y="70.64" width="3.84" height="4.21" fill="#fff"/><rect x="122.04" y="64.06" width="3.34" height="3.79" fill="#fff"/><rect x="127.29" y="64.06" width="3.20" height="3.79" fill="#fff"/><rect x="60.13" y="106.54" width="4.04" height="4.21" fill="#fff"/><rect x="66.64" y="106.54" width="3.84" height="4.21" fill="#fff"/><rect x="97.60" y="106.54" width="4.04" height="4.21" fill="#fff"/><rect x="104.11" y="106.54" width="3.84" height="4.21" fill="#fff"/><rect x="122.04" y="99.96" width="3.34" height="3.79" fill="#fff"/><rect x="127.29" y="99.96" width="3.20" height="3.79" fill="#fff"/><rect x="68.91" y="142.44" width="4.04" height="4.21" fill="#fff"/><rect x="75.42" y="142.44" width="3.84" height="4.21" fill="#fff"/><rect x="97.60" y="142.44" width="4.04" height="4.21" fill="#fff"/><rect x="104.11" y="142.44" width="3.84" height="4.21" fill="#fff"/><rect x="122.04" y="135.86" width="3.34" height="3.79" fill="#fff"/><rect x="127.29" y="135.86" width="3.20" height="3.79" fill="#fff"/><rect x="97.60" y="178.34" width="4.04" height="4.21" fill="#fff"/><rect x="104.11" y="178.34" width="3.84" height="4.21" fill="#fff"/><rect x="122.04" y="171.76" width="3.34" height="3.79" fill="#fff"/><rect x="127.29" y="171.76" width="3.20" height="3.79" fill="#fff"/><rect x="127.88" y="171.76" width="3.34" height="3.79" fill="#fff"/><rect x="133.13" y="171.76" width="3.20" height="3.79" fill="#fff"/><!--/MASKS-->
</svg></body></html>
